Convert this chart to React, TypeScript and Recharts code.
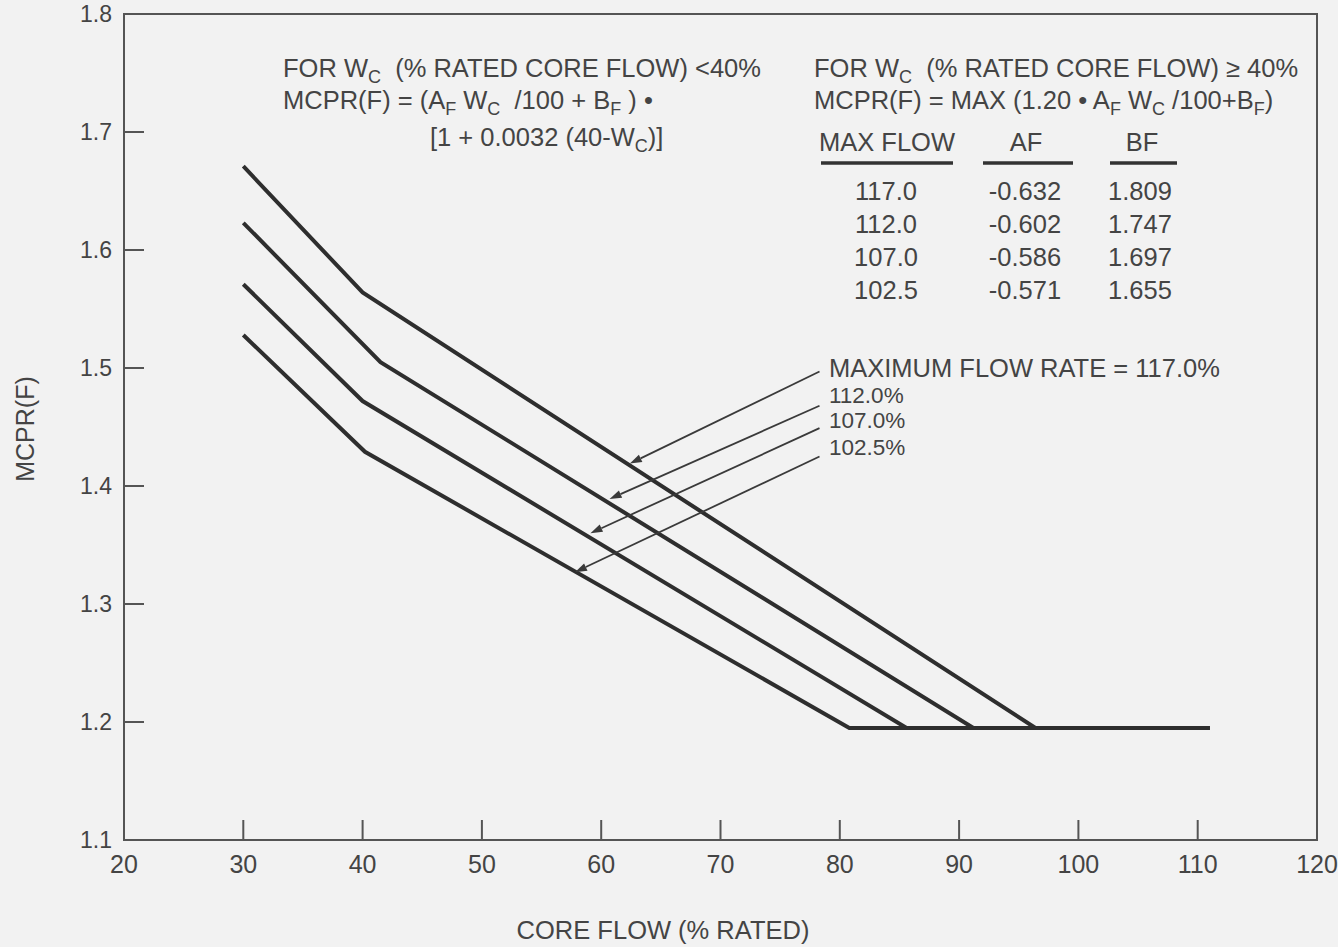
import { LineChart, Line, XAxis, YAxis, ReferenceArea, ReferenceLine } from 'recharts';

// core flow (% rated) at each vertex, MCPR(F) at each vertex
const wc1170 = [30, 40, 96.4, 111];
const mcpr1170 = [1.671, 1.564, 1.195, 1.195];
const wc1120 = [30, 41.5, 91.2, 111];
const mcpr1120 = [1.623, 1.505, 1.195, 1.195];
const wc1070 = [30, 40, 85.6, 111];
const mcpr1070 = [1.571, 1.472, 1.195, 1.195];
const wc1025 = [30, 40.2, 80.8, 111];
const mcpr1025 = [1.528, 1.429, 1.195, 1.195];

const xTicks = [20, 30, 40, 50, 60, 70, 80, 90, 100, 110, 120];
const yTicks = [1.1, 1.2, 1.3, 1.4, 1.5, 1.6, 1.7, 1.8];

const maxFlows = ['117.0', '112.0', '107.0', '102.5'];
const afValues = ['-0.632', '-0.602', '-0.586', '-0.571'];
const bfValues = ['1.809', '1.747', '1.697', '1.655'];
const curveLabels = ['MAXIMUM FLOW RATE = 117.0%', '112.0%', '107.0%', '102.5%'];

// arrow from label (tail) to curve (head), in data units
const arrowTail = [
  { x: 78.3, y: 1.497 },
  { x: 78.3, y: 1.468 },
  { x: 78.3, y: 1.449 },
  { x: 78.3, y: 1.425 },
];
const arrowHead = [
  { x: 62.4, y: 1.419 },
  { x: 60.7, y: 1.389 },
  { x: 59.1, y: 1.36 },
  { x: 57.8, y: 1.327 },
];

const toPoints = (xs: number[], ys: number[]) => xs.map((x, i) => ({ x, y: ys[i] }));

const series = [
  toPoints(wc1170, mcpr1170),
  toPoints(wc1120, mcpr1120),
  toPoints(wc1070, mcpr1070),
  toPoints(wc1025, mcpr1025),
];

const FONT = '"Liberation Sans", Arial, sans-serif';
const INK = '#444';
const LINE = '#2e2e2e';
const FS = 25.5;

function Arrow(props: any) {
  const { x1, y1, x2, y2 } = props;
  const dx = x2 - x1;
  const dy = y2 - y1;
  const len = Math.sqrt(dx * dx + dy * dy) || 1;
  const ux = dx / len;
  const uy = dy / len;
  const bx = x2 - ux * 12;
  const by = y2 - uy * 12;
  const px = -uy * 4;
  const py = ux * 4;
  return (
    <g>
      <line x1={x1} y1={y1} x2={bx} y2={by} stroke="#3a3a3a" strokeWidth={1.8} />
      <polygon points={`${x2},${y2} ${bx + px},${by + py} ${bx - px},${by - py}`} fill="#3a3a3a" />
    </g>
  );
}

// text with subscripts: "_X" marks a subscript segment
function Rich({ x, y, parts }: { x: number; y: number; parts: string[] }) {
  let shifted = false;
  return (
    <text x={x} y={y} fontFamily={FONT} fontSize={FS} fill={INK} style={{ whiteSpace: 'pre' }}>
      {parts.map((p, i) => {
        if (p.startsWith('_')) {
          const dy = shifted ? 0 : 6;
          shifted = true;
          return (
            <tspan key={i} fontSize={18} dy={dy}>
              {p.slice(1)}
            </tspan>
          );
        }
        const dy = shifted ? -6 : 0;
        shifted = false;
        return (
          <tspan key={i} dy={dy}>
            {p}
          </tspan>
        );
      })}
    </text>
  );
}

function Notes() {
  const t = { fontFamily: FONT, fontSize: FS, fill: INK } as const;
  const rowY = [200, 233, 266, 299];
  const labelY = [377, 402.5, 427.5, 455];
  const labelSize = [FS, 22.5, 22.5, 22.5];
  return (
    <g>
      <Rich x={283} y={77} parts={['FOR W', '_C', '  (% RATED CORE FLOW) <40%']} />
      <Rich x={283} y={109} parts={['MCPR(F) = (A', '_F', ' W', '_C', '  /100 + B', '_F', ' ) •']} />
      <Rich x={430} y={146} parts={['[1 + 0.0032 (40-W', '_C', ')]']} />
      <Rich x={814} y={77} parts={['FOR W', '_C', '  (% RATED CORE FLOW) ≥ 40%']} />
      <Rich x={814} y={109} parts={['MCPR(F) = MAX (1.20 • A', '_F', ' W', '_C', ' /100+B', '_F', ')']} />
      <text x={887} y={151} textAnchor="middle" {...t}>MAX FLOW</text>
      <text x={1026} y={151} textAnchor="middle" {...t}>AF</text>
      <text x={1142} y={151} textAnchor="middle" {...t}>BF</text>
      <line x1={821} y1={163} x2={953} y2={163} stroke="#333" strokeWidth={3.5} />
      <line x1={983} y1={163} x2={1073} y2={163} stroke="#333" strokeWidth={3.5} />
      <line x1={1110} y1={163} x2={1177} y2={163} stroke="#333" strokeWidth={3.5} />
      {maxFlows.map((m, i) => (
        <g key={m}>
          <text x={886} y={rowY[i]} textAnchor="middle" {...t}>{m}</text>
          <text x={1025} y={rowY[i]} textAnchor="middle" {...t}>{afValues[i]}</text>
          <text x={1140} y={rowY[i]} textAnchor="middle" {...t}>{bfValues[i]}</text>
        </g>
      ))}
      {curveLabels.map((c, i) => (
        <text key={c} x={829} y={labelY[i]} {...t} fontSize={labelSize[i]}>{c}</text>
      ))}
      <text x={663} y={939} textAnchor="middle" {...t}>CORE FLOW (% RATED)</text>
      <text
        x={25}
        y={429}
        textAnchor="middle"
        dominantBaseline="central"
        transform="rotate(-90 25 429)"
        {...t}
        fontSize={25}
      >
        MCPR(F)
      </text>
    </g>
  );
}

export default function App() {
  return (
    <div style={{ position: 'absolute', left: 0, top: 0, width: 1338, height: 947, background: '#f2f2f2' }}>
      <LineChart width={1338} height={947} margin={{ top: 14, right: 21, bottom: 0, left: 0 }}>
        <ReferenceArea x1={20} x2={120} y1={1.1} y2={1.8} fill="none" stroke="#555" strokeWidth={2} ifOverflow="visible" />
        <XAxis
          type="number"
          dataKey="x"
          domain={[20, 120]}
          ticks={xTicks}
          height={107}
          tickSize={-20}
          tickMargin={35}
          axisLine={{ stroke: '#555', strokeWidth: 2 }}
          tickLine={{ stroke: '#555', strokeWidth: 2 }}
          tick={{ fill: INK, fontSize: 25, fontFamily: FONT }}
          allowDataOverflow
        />
        <YAxis
          type="number"
          dataKey="y"
          domain={[1.1, 1.8]}
          ticks={yTicks}
          width={124}
          tickSize={-20}
          tickMargin={32}
          tickFormatter={(v: number) => v.toFixed(1)}
          axisLine={{ stroke: '#555', strokeWidth: 2 }}
          tickLine={{ stroke: '#555', strokeWidth: 2 }}
          tick={{ fill: INK, fontSize: 23, fontFamily: FONT }}
          allowDataOverflow
        />
        {series.map((d, i) => (
          <Line
            key={i}
            data={d}
            dataKey="y"
            type="linear"
            stroke={LINE}
            strokeWidth={4}
            dot={false}
            activeDot={false}
            isAnimationActive={false}
          />
        ))}
        {arrowTail.map((tail, i) => (
          <ReferenceLine key={i} segment={[tail, arrowHead[i]]} shape={Arrow} ifOverflow="visible" />
        ))}
        <Notes />
      </LineChart>
    </div>
  );
}
